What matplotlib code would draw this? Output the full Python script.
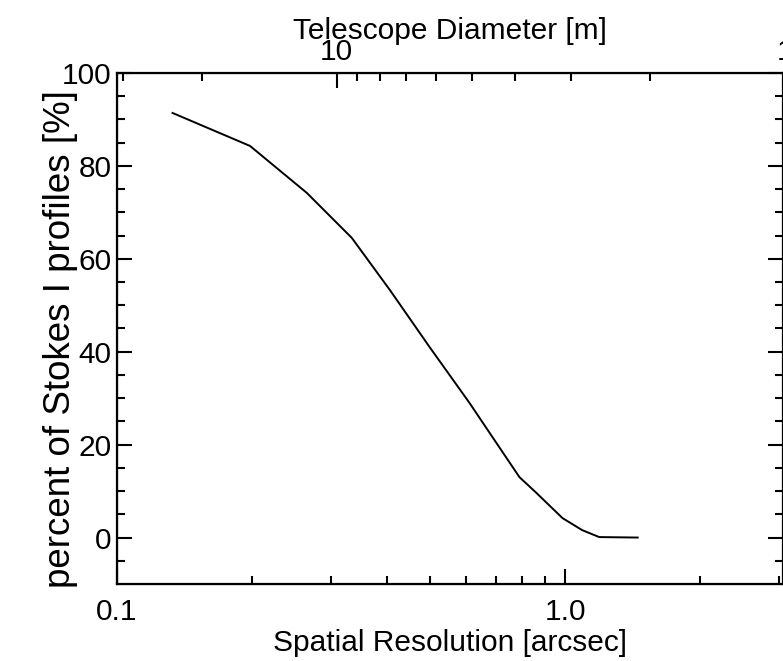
import matplotlib

matplotlib.use("Agg")
import matplotlib.pyplot as plt
from matplotlib.ticker import FixedLocator, FixedFormatter, NullFormatter

# spatial resolution [arcsec] vs. fraction of Stokes I profiles [%]
resolution = [0.133, 0.198, 0.265, 0.334, 0.406, 0.498, 0.611, 0.688, 0.790, 0.862,
              0.985, 1.09, 1.19, 1.45]
percent = [91.4, 84.3, 74.2, 64.5, 53.3, 41.0, 29.0, 21.6, 13.0, 9.6,
           4.2, 1.6, 0.1, 0.0]

# diffraction scaling between resolution and telescope diameter: res = K / D
K_DIAM = 3.09
x_major = [0.1, 1.0]
x_major_labels = ["0.1", "1.0"]
x_minor = [0.2, 0.3, 0.4, 0.5, 0.6, 0.7, 0.8, 0.9, 2.0, 3.0]
d_major = [10]
d_minor = [30, 20, 9, 8, 7, 6, 5, 4, 3, 2]
y_major = [0, 20, 40, 60, 80, 100]
y_minor = [-5, 5, 10, 15, 25, 30, 35, 45, 50, 55, 65, 70, 75, 85, 90, 95]

XLIM = (0.1, 3.05)
YLIM = (-10, 100)

plt.rcParams["font.family"] = ["Liberation Sans", "DejaVu Sans"]
FS = 21.5
TOP_PAD = 5.3

fig = plt.figure(figsize=(7.83, 6.61), dpi=100)
ax = fig.add_axes([117 / 783, 77 / 661, (782.5 - 117) / 783, (584 - 73) / 661])

ax.plot(resolution, percent, color="black", lw=1.4)
ax.set_xscale("log")
ax.set_xlim(*XLIM)
ax.set_ylim(*YLIM)

ax.xaxis.set_major_locator(FixedLocator(x_major))
ax.xaxis.set_major_formatter(FixedFormatter(x_major_labels))
ax.xaxis.set_minor_locator(FixedLocator(x_minor))
ax.xaxis.set_minor_formatter(NullFormatter())
ax.yaxis.set_major_locator(FixedLocator(y_major))
ax.yaxis.set_minor_locator(FixedLocator(y_minor))

ax.tick_params(which="both", direction="in", top=False, right=True, width=1.5,
               labelsize=FS)
ax.tick_params(which="major", length=11)
ax.tick_params(which="minor", length=5.5)
ax.tick_params(axis="x", pad=10)
ax.tick_params(axis="y", pad=4)
for sp in ax.spines.values():
    sp.set_linewidth(1.6)

ax.set_xlabel("Spatial Resolution [arcsec]", fontsize=FS, labelpad=2)
# the y title is drawn larger than the other texts in the original
ax.set_ylabel("percent of Stokes I profiles [%]", fontsize=26.5)
ax.yaxis.set_label_coords(-(117 - 78) / 665.5, (584 - 339) / 511)

# top axis: telescope diameter
ax2 = ax.twiny()
ax2.set_xscale("log")
ax2.set_xlim(K_DIAM / XLIM[0], K_DIAM / XLIM[1])
ax2.xaxis.set_major_locator(FixedLocator(d_major))
ax2.xaxis.set_major_formatter(FixedFormatter([str(d) for d in d_major]))
ax2.xaxis.set_minor_locator(FixedLocator(d_minor))
ax2.xaxis.set_minor_formatter(NullFormatter())
ax2.tick_params(which="both", direction="in", width=1.5, labelsize=FS, pad=TOP_PAD)
ax2.tick_params(which="major", length=11)
ax2.tick_params(which="minor", length=5.5)
ax2.set_xlabel("Telescope Diameter [m]", fontsize=FS, labelpad=-1)
# the D = 1 m label falls just outside the plotting range
ax2.annotate("1", xy=(1.0, 1.0), xycoords=ax2.get_xaxis_transform(),
             xytext=(0, TOP_PAD), textcoords="offset points", fontsize=FS,
             ha="center", va="bottom", annotation_clip=False)

fig.savefig("out.png", dpi=100)
